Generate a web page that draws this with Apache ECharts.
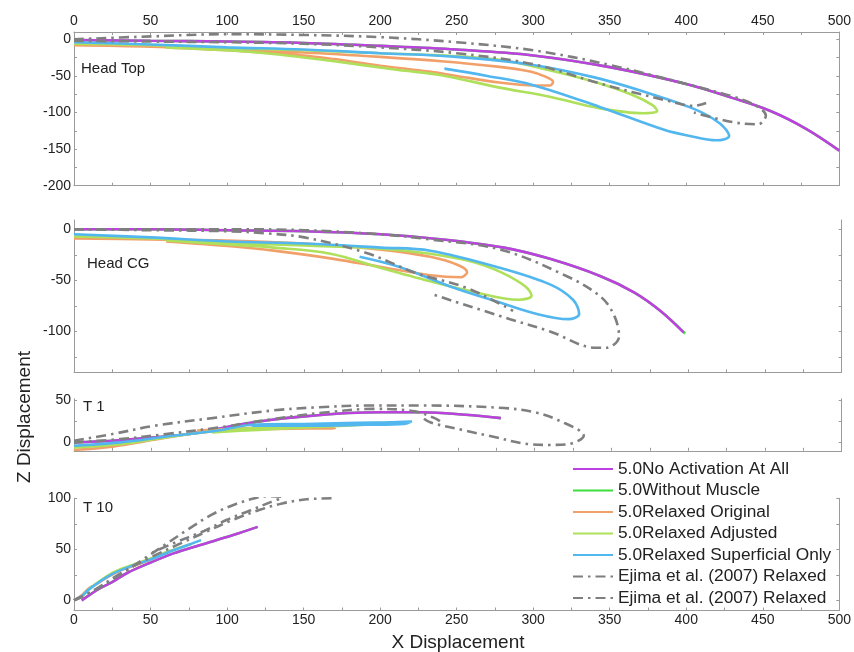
<!DOCTYPE html>
<html>
<head>
<meta charset="utf-8">
<script src="https://cdn.jsdelivr.net/npm/echarts@6/dist/echarts.min.js"></script>
<style>
  html, body { margin: 0; padding: 0; background: #fff; }
  #chart { width: 854px; height: 652px; }
</style>
</head>
<body>
<div id="chart"></div>
<script>
// ---- tick values ----
const xLabelValues = [0, 50, 100, 150, 200, 250, 300, 350, 400, 450, 500];
const xTickValues = [0, 25, 50, 75, 100, 125, 150, 175, 200, 225, 250, 275, 300, 325, 350, 375, 400, 425, 450, 475, 500];
const headTopYLabels = [0, -50, -100, -150, -200];
const headTopYTicks = [0, -25, -50, -75, -100, -125, -150, -175, -200];
const headCgYLabels = [0, -50, -100];
const headCgYTicks = [0, -25, -50, -75, -100, -125];
const t1YLabels = [0, 50];
const t1YTicks = [0, 25, 50];
const t10YLabels = [0, 50, 100];
const t10YTicks = [0, 25, 50, 75, 100];

// ---- panel titles and legend labels ----
const panelNames = ['Head Top', 'Head CG', 'T 1', 'T 10'];
const seriesKeys = ['noActivation', 'withoutMuscle', 'relaxedOriginal', 'relaxedAdjusted', 'superficialOnly', 'ejimaA', 'ejimaB'];
const legendLabels = ['5.0No Activation At All', '5.0Without Muscle', '5.0Relaxed Original', '5.0Relaxed Adjusted',
  '5.0Relaxed Superficial Only', 'Ejima et al. (2007) Relaxed', 'Ejima et al. (2007) Relaxed'];

// ---- Head Top trajectories [x, z] ----
const headTopNoActivation = [[0,-1],[50,-2],[100,-3],[150,-5],[200,-9],[250,-14],[300,-22],[350,-38],[400,-61],[430,-80],[455,-98],[478,-122],[500,-152]];
const headTopWithoutMuscle = [[0,-1],[50,-2],[100,-3],[150,-5],[200,-9],[250,-14],[300,-22],[350,-38],[400,-61],[430,-80],[455,-98],[478,-122],[500,-152]];
const headTopRelaxedOriginal = [[0,-8],[50,-10],[100,-14],[150,-18],[200,-24],[240,-30],[275,-37],[298,-44],[308,-51],[313,-58],[311,-63],[300,-63],[278,-59],[250,-50],[232,-44],[200,-36],[170,-27],[150,-22],[100,-15],[60,-11]];
const headTopRelaxedAdjusted = [[0,-6],[50,-8],[100,-12],[150,-15],[200,-19],[240,-22],[278,-28],[310,-42],[343,-60],[365,-76],[378,-90],[381,-98],[372,-101],[343,-94],[310,-78],[278,-66],[240,-49],[212,-42],[170,-30],[130,-20],[100,-15],[60,-11]];
const headTopSuperficialOnly = [[0,-4],[50,-7],[100,-11],[150,-14],[200,-19],[250,-24],[300,-35],[340,-52],[370,-70],[405,-95],[422,-115],[428,-132],[420,-138],[400,-131],[386,-124],[343,-92],[299,-62],[270,-50],[242,-40]];
const headTopEjimaA = [[0,0],[50,4],[100,7],[150,6],[200,3],[250,-4],[300,-15],[350,-35],[400,-61],[430,-78],[445,-90],[452,-104],[447,-116],[430,-113],[405,-100]];
const headTopEjimaB = [[0,-2],[50,-3],[100,-4],[150,-6],[200,-11],[250,-19],[300,-34],[343,-60],[386,-83],[405,-91],[413,-87]];

// ---- Head CG trajectories ----
const headCgNoActivation = [[0,0],[50,0],[100,-1],[150,-2],[200,-5],[240,-10],[280,-18],[310,-29],[343,-46],[365,-62],[382,-80],[397,-101]];
const headCgWithoutMuscle = [[0,0],[50,0],[100,-1],[150,-2],[200,-5],[240,-10],[280,-18],[310,-29],[343,-46],[365,-62],[382,-80],[398,-102]];
const headCgRelaxedOriginal = [[0,-9],[50,-10],[100,-11],[150,-14],[200,-20],[232,-27],[250,-35],[256,-42],[252,-47],[232,-45],[200,-37],[169,-29],[130,-21],[104,-17],[60,-12]];
const headCgRelaxedAdjusted = [[0,-7],[50,-9],[100,-13],[150,-16],[200,-19],[232,-24],[260,-32],[278,-42],[294,-56],[298,-65],[290,-69],[254,-59],[232,-51],[200,-38],[167,-24],[130,-18],[100,-15],[60,-11]];
const headCgSuperficialOnly = [[0,-5],[50,-8],[100,-12],[150,-14],[200,-18],[232,-21],[278,-38],[310,-54],[325,-69],[329,-83],[322,-88],[299,-82],[278,-72],[245,-56],[212,-37],[186,-27]];
const headCgEjimaA = [[0,0],[50,0],[100,0],[150,-1],[200,-5],[232,-10],[278,-20],[321,-46],[343,-66],[352,-85],[355,-105],[347,-116],[340,-116],[310,-100],[284,-88],[234,-64]];
const headCgEjimaB = [[0,0],[50,-1],[100,-2],[125,-4],[150,-8],[190,-23],[223,-43],[255,-57],[280,-75],[286,-80]];

// ---- T1 trajectories ----
const t1NoActivation = [[0,0],[25,2],[53,6],[75,10],[93,16],[110,22],[129,27],[150,31],[179,35],[200,36],[227,36],[255,33],[278,29]];
const t1WithoutMuscle = [[0,0],[25,2],[53,6],[75,10],[93,16],[110,22],[129,27],[150,31],[179,35],[200,36],[227,36],[255,33],[278,29]];
const t1RelaxedOriginal = [[0,-9],[25,-5],[55,4],[75,10],[95,14],[130,16],[170,17],[150,18],[115,17],[80,14]];
const t1RelaxedAdjusted = [[0,-6],[30,-2],[60,6],[93,14],[130,18],[154,20],[199,23],[215,24],[199,22],[154,18],[120,15],[90,12]];
const t1SuperficialOnly = [[0,-4],[30,0],[60,7],[93,14],[116,21],[150,22],[204,24],[220,25],[215,22],[190,21],[150,20],[116,20]];
const t1EjimaA = [[0,2],[25,10],[53,20],[90,29],[129,38],[160,42],[192,44],[230,44],[280,41],[300,36],[316,26],[332,8],[322,-2],[310,-3],[296,-2],[270,8],[255,14],[232,24],[226,31]];
const t1EjimaB = [[0,0],[30,4],[60,10],[95,18],[130,28],[165,36],[195,40],[222,37],[236,28],[240,23]];

// ---- T10 trajectories ----
const t10NoActivation = [[5,0],[10,5],[16,11],[24,17],[35,27],[50,37],[65,46],[82,54],[104,64],[120,72]];
const t10WithoutMuscle = [[5,0],[10,5],[16,11],[24,17],[35,27],[50,37],[65,46],[82,54],[104,64],[120,72]];
const t10RelaxedOriginal = [[0,0],[5,5],[10,12],[15,16],[20,21],[30,29],[45,37],[55,43]];
const t10RelaxedAdjusted = [[0,0],[5,4],[10,11],[17,19],[24,26],[35,33],[50,41],[62,48],[76,55]];
const t10SuperficialOnly = [[0,0],[5,4],[10,11],[24,25],[40,35],[50,40],[65,49],[76,55],[83,59]];
const t10EjimaA = [[0,0],[10,7],[25,20],[45,40],[60,55],[75,70],[90,84],[105,94],[118,100],[126,102],[136,101],[128,96],[115,88],[100,79],[85,68],[65,56],[50,46]];
const t10EjimaB = [[0,0],[12,9],[30,26],[50,42],[70,56],[86,67],[104,79],[120,88],[136,95],[152,99],[169,100]];

const panelSeries = [
  [headTopNoActivation, headTopWithoutMuscle, headTopRelaxedOriginal, headTopRelaxedAdjusted, headTopSuperficialOnly, headTopEjimaA, headTopEjimaB],
  [headCgNoActivation, headCgWithoutMuscle, headCgRelaxedOriginal, headCgRelaxedAdjusted, headCgSuperficialOnly, headCgEjimaA, headCgEjimaB],
  [t1NoActivation, t1WithoutMuscle, t1RelaxedOriginal, t1RelaxedAdjusted, t1SuperficialOnly, t1EjimaA, t1EjimaB],
  [t10NoActivation, t10WithoutMuscle, t10RelaxedOriginal, t10RelaxedAdjusted, t10SuperficialOnly, t10EjimaA, t10EjimaB]
];

// ---- layout & styling ----
const FONT = "'Liberation Sans', Arial, Helvetica, sans-serif";
const AXIS_COLOR = '#9b9b9b';
const TEXT_COLOR = '#222';
const panels = [
  { top: 32,    height: 153.7, min: -200, max: 10,  labels: headTopYLabels, ticks: headTopYTicks },
  { top: 220,   height: 152.3, min: -140, max: 9,   labels: headCgYLabels,  ticks: headCgYTicks },
  { top: 398.8, height: 52,    min: -10,  max: 52,  labels: t1YLabels,      ticks: t1YTicks },
  { top: 498.3, height: 112.2, min: -10,  max: 100, labels: t10YLabels,     ticks: t10YTicks }
];
const titlePos = [[81, 70], [87, 265], [83, 408], [83, 509]];

const lineStyles = {
  noActivation:    { color: '#bf40e0', z: 3 },
  withoutMuscle:   { color: '#3ddf3d', z: 2 },
  relaxedOriginal: { color: '#f2a06a', z: 3 },
  relaxedAdjusted: { color: '#aee05c', z: 3 },
  superficialOnly: { color: '#52b6ef', z: 3 },
  ejimaA:          { color: '#7f7f7f', z: 4, dash: [10, 5, 2.5, 5] },
  ejimaB:          { color: '#7f7f7f', z: 4, dash: [10, 5, 2.5, 5] }
};

const axisLine = { show: true, onZero: false, lineStyle: { color: AXIS_COLOR, width: 1 } };
const labelStyle = { color: TEXT_COLOR, fontSize: 14, fontFamily: FONT };
const tickStyle = ticks => ({ show: true, inside: true, length: 3, customValues: ticks, lineStyle: { color: AXIS_COLOR } });

const grids = [], xAxes = [], yAxes = [], series = [];
panels.forEach((p, i) => {
  grids.push({ left: 74, top: p.top, width: 767.7, height: p.height, containLabel: false });
  const isLast = i === panels.length - 1;
  xAxes.push({
    type: 'value', gridIndex: i, min: 0, max: 500, position: 'bottom',
    axisLine: axisLine,
    axisTick: tickStyle(xTickValues),
    axisLabel: isLast ? Object.assign({ show: true, margin: 3, customValues: xLabelValues }, labelStyle) : { show: false },
    splitLine: { show: false }
  });
  yAxes.push({
    type: 'value', gridIndex: i, min: p.min, max: p.max, position: 'left',
    axisLine: axisLine,
    axisTick: tickStyle(p.ticks),
    axisLabel: Object.assign({ show: true, margin: 3, customValues: p.labels }, labelStyle),
    splitLine: { show: false }
  });
  yAxes.push({
    type: 'value', gridIndex: i, min: p.min, max: p.max, position: 'right',
    axisLine: axisLine,
    axisTick: tickStyle(p.ticks),
    axisLabel: { show: false },
    splitLine: { show: false }
  });
});
// labelled top axis of the first panel
xAxes.push({
  type: 'value', gridIndex: 0, min: 0, max: 500, position: 'top',
  axisLine: axisLine,
  axisTick: tickStyle(xTickValues),
  axisLabel: Object.assign({ show: true, margin: 4, customValues: xLabelValues }, labelStyle),
  splitLine: { show: false }
});

panelSeries.forEach((list, i) => {
  list.forEach((data, k) => {
    const key = seriesKeys[k];
    const st = lineStyles[key];
    series.push({
      name: key, type: 'line', xAxisIndex: i, yAxisIndex: i * 2,
      data: data, smooth: 0.35, showSymbol: false, symbol: 'none', z: st.z,
      lineStyle: { color: st.color, width: 2.6, type: st.dash || 'solid', cap: 'butt' },
      itemStyle: { color: st.color },
      emphasis: { disabled: true }, silent: true
    });
  });
});

const graphic = panelNames.map((t, i) => ({
  type: 'text', left: titlePos[i][0], top: titlePos[i][1] - 9,
  style: { text: t, fill: TEXT_COLOR, font: '15px ' + FONT }
}));
graphic.push({
  type: 'text', x: 458, y: 643,
  style: { text: 'X Displacement', fill: TEXT_COLOR, font: '19px ' + FONT, textAlign: 'center', textVerticalAlign: 'middle' }
});
graphic.push({
  type: 'text', x: 25, y: 417, rotation: Math.PI / 2,
  style: { text: 'Z Displacement', fill: TEXT_COLOR, font: '19px ' + FONT, textAlign: 'center', textVerticalAlign: 'middle' }
});

const chart = echarts.init(document.getElementById('chart'), null, { renderer: 'canvas' });
chart.setOption({
  animation: false,
  backgroundColor: '#fff',
  grid: grids,
  xAxis: xAxes,
  yAxis: yAxes,
  legend: {
    orient: 'vertical', left: 572, top: 460.5, padding: 0,
    data: seriesKeys,
    itemWidth: 40, itemHeight: 14, itemGap: 4.5,
    itemStyle: { color: 'transparent', borderWidth: 0, opacity: 0 },
    formatter: name => legendLabels[seriesKeys.indexOf(name)],
    textStyle: { color: TEXT_COLOR, fontSize: 17.3, fontFamily: FONT, lineHeight: 16 },
    selectedMode: false
  },
  graphic: graphic,
  series: series
});
</script>
</body>
</html>
